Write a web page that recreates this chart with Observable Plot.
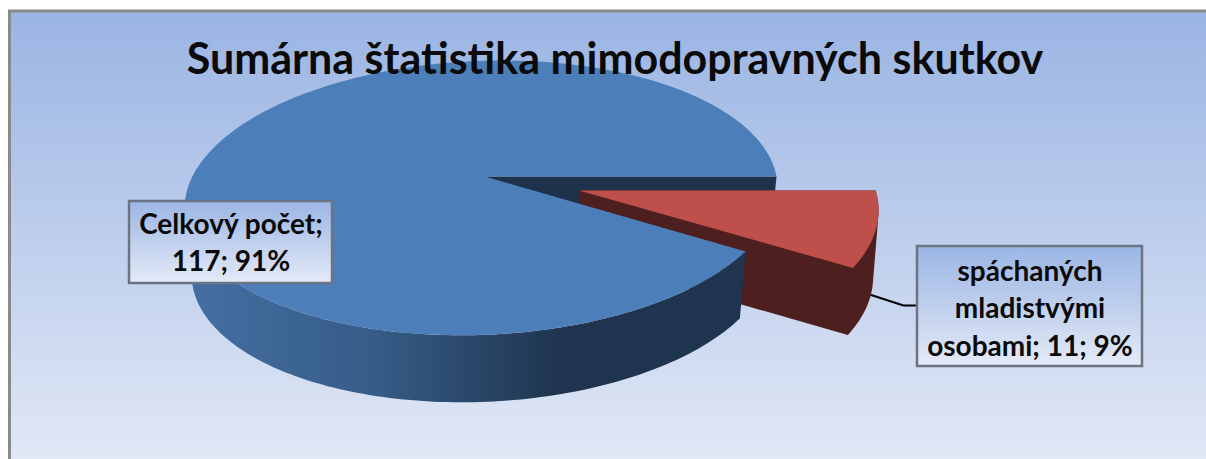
<!DOCTYPE html>
<html><head><meta charset="utf-8">
<script src="https://cdn.jsdelivr.net/npm/d3@7"></script>
<script src="https://cdn.jsdelivr.net/npm/@observablehq/plot@0.6"></script>
<style>html,body{margin:0;padding:0;background:#fff}svg{display:block}</style>
</head><body><div id="chart"></div>
<script>
const titleText = "Sumárna štatistika mimodopravných skutkov";
const names = ["Celkový počet", "spáchaných mladistvými osobami"];
const values = [117, 11];
const labelLines = [["Celkový počet;", "117; 91%"], ["spáchaných", "mladistvými", "osobami; 11; 9%"]];

const W = 1206, H = 459;
const total = d3.sum(values);
const cx = 484, cy = 176, a = 292, b = 134, p = 0.156, shear = 20, depth = 67;
const TAU = Math.PI * 2;
const sweep = values[1] / total * TAU;
const origin = {u: 0, v: 0, converge: 0.022};
const explode = {u: 0.325, v: -0.1028, converge: 0.014};
function proj(u, v, drop = 0, k = 0) {
  const w = 1 + p * v;
  const x = a * (u + shear / a * v) / w;
  return {x: cx + x * (drop ? 1 - k : 1), y: cy - b * v / w + drop};
}
function arc(t0, t1, o = origin, drop = 0) {
  const n = Math.max(2, Math.ceil(Math.abs(t1 - t0) / 0.02));
  return d3.range(n + 1).map(i => {
    const t = t0 + (t1 - t0) * i / n;
    return proj(Math.cos(t) + o.u, Math.sin(t) + o.v, drop, o.converge);
  });
}
const apex = (o = origin, drop = 0) => proj(o.u, o.v, drop, o.converge);
const wall = (t0, t1, o, d = depth) => [...arc(t0, t1, o, 0), ...arc(t1, t0, o, d)];
const radial = (t, o = origin, d = depth) => [apex(o),
  proj(Math.cos(t) + o.u, Math.sin(t) + o.v),
  proj(Math.cos(t) + o.u, Math.sin(t) + o.v, d, o.converge), apex(o, d)];
const hull = pts => d3.polygonHull(pts.map(q => [q.x, q.y])).map(([x, y]) => ({x, y}));

const blueTop = [apex(), ...arc(0, TAU - sweep)];
const redTop = [apex(explode), ...arc(-sweep, 0, explode)];
const redBody = hull([...redTop, apex(explode, depth), ...arc(-sweep, 0, explode, depth)]);
const poly = (data, fill) => Plot.line(data, {x: "x", y: "y", fill, stroke: "none", curve: "linear-closed"});

const defs = () => {
  const s = d3.create("svg:defs");
  const grad = (id, attrs, stops) => {
    const g = s.append("linearGradient").attr("id", id);
    Object.entries(attrs).forEach(([k, v]) => g.attr(k, v));
    stops.forEach(([o, c]) => g.append("stop").attr("offset", o).attr("stop-color", c));
  };
  grad("bg", {x1: 0, y1: 0, x2: 0, y2: 1}, [[0, "#9ab4e3"], [1, "#e3e9f6"]]);
  grad("box", {x1: 0, y1: 0, x2: 0, y2: 1}, [[0, "#9bb5e4"], [1, "#e4eaf7"]]);
  grad("side", {gradientUnits: "userSpaceOnUse", x1: 190, y1: 0, x2: 560, y2: 0},
    [[0, "#446fa3"], [0.5, "#365c87"], [1, "#1f344e"]]);
  return s.node();
};

const boxes = [
  {x1: 129, x2: 332, y1: 201, y2: 283, cx: 230.5, base: 233},
  {x1: 917, x2: 1142, y1: 246, y2: 366, cx: 1029.5, base: 280}
];
const textRows = boxes.flatMap((bx, i) => labelLines[i].map((t, j) => ({t, x: bx.cx, y: bx.base + j * 37.5})));

const chart = Plot.plot({
  width: W, height: H,
  margin: 0,
  x: {domain: [0, W], range: [0, W], axis: null},
  y: {domain: [0, H], range: [0, H], axis: null},
  marks: [
    defs,
    Plot.rect([{x1: 9.5, x2: 1230, y1: 11, y2: 470}], {x1: "x1", x2: "x2", y1: "y1", y2: "y2", fill: "url(#bg)", stroke: "#8a8a8a", strokeWidth: 3}),
    Plot.line([{x: 866, y: 293}, {x: 903, y: 305}, {x: 917, y: 305}], {x: "x", y: "y", stroke: "#000", strokeWidth: 2}),
    poly(radial(0), "#1f324c"),
    poly(redBody, "#4d1f1e"),
    poly(redTop, "#be4f4b"),
    poly(wall(Math.PI * 0.98, TAU - sweep, origin), "url(#side)"),
    poly(blueTop, "#4c7eb9"),
    Plot.text([titleText], {x: () => 614.5, y: () => 60, text: d => d, fontSize: 43, fontWeight: 700, fontFamily: "Lato", fill: "#0a0a0a", textAnchor: "middle"}),
    Plot.rect(boxes, {x1: "x1", x2: "x2", y1: "y1", y2: "y2", fill: "url(#box)", stroke: "#6c7483", strokeWidth: 2.5}),
    Plot.text(textRows, {x: "x", y: "y", text: "t", fontSize: 28, fontWeight: 700, fontFamily: "Lato", fill: "#0a0a0a", textAnchor: "middle", lineAnchor: "bottom"})
  ]
});
document.getElementById("chart").append(chart);
</script></body></html>
